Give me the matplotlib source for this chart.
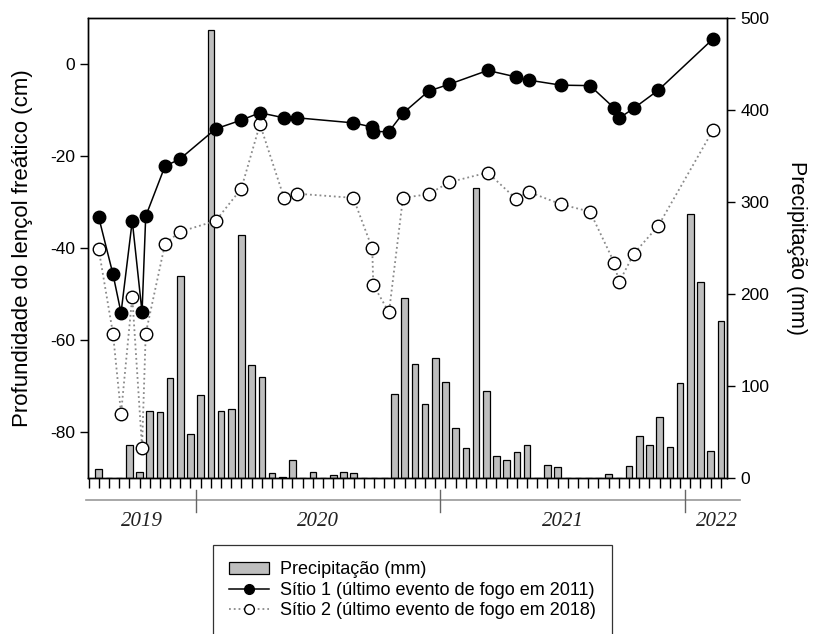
import numpy as np
import matplotlib
matplotlib.use('Agg')
import matplotlib.pyplot as plt
from matplotlib.patches import Patch
from matplotlib.lines import Line2D

plt.rcParams['font.family'] = ['Liberation Sans', 'DejaVu Sans']
plt.rcParams['axes.unicode_minus'] = False

# precipitation per half-month, Aug 2019 (1st half) .. Feb 2022 (2nd half), mm
precip = [10, 0, 0, 36, 6, 73, 72, 109, 220, 48, 90, 487, 73, 75, 264, 123,
          110, 5, 1, 20, 0, 7, 0, 3, 7, 5, 0, 0, 0, 91, 196, 124, 80, 130,
          104, 54, 33, 315, 95, 24, 19, 28, 36, 0, 14, 12, 0, 0, 0, 0, 4, 0,
          13, 46, 36, 66, 34, 103, 287, 213, 29, 171]

# sampling dates expressed in half-month units (0 = first half of Aug 2019)
sample_pos = [0.0, 1.40, 2.19, 3.29, 4.25, 4.61, 6.50, 7.94, 11.47, 13.98,
              15.81, 18.17, 19.47, 24.96, 26.82, 26.92, 28.46, 29.83, 32.34,
              34.37, 38.14, 40.91, 42.16, 45.32, 48.17, 50.55, 51.01, 52.48,
              54.86, 60.25]

# water table depth (cm)
site1 = [-33.3, -45.7, -54.1, -34.1, -54.0, -33.1, -22.2, -20.7, -14.1, -12.2,
         -10.6, -11.7, -11.7, -12.8, -13.7, -14.7, -14.7, -10.7, -5.9, -4.4,
         -1.4, -2.8, -3.5, -4.6, -4.7, -9.6, -11.8, -9.6, -5.7, 5.5]
site2 = [-40.3, -58.6, -76.0, -50.6, -83.4, -58.6, -39.1, -36.5, -34.1, -27.1,
         -13.1, -29.1, -28.2, -29.1, -40.1, -48.0, -54.0, -29.1, -28.3, -25.7,
         -23.6, -29.3, -27.8, -30.5, -32.1, -43.2, -47.5, -41.2, -35.2, -14.3]

years = ['2019', '2020', '2021', '2022']
year_starts = [9.5, 33.5, 57.5]   # Jan 1 of 2020, 2021, 2022

fig = plt.figure(figsize=(8.14, 6.34), dpi=100)
ax = fig.add_axes([0.1081, 0.2461, 0.785, 0.7255])
axp = ax.twinx()

# bars on the right axis, lines on top
ax.set_zorder(2)
axp.set_zorder(1)
ax.patch.set_visible(False)

x = np.arange(len(precip))
axp.bar(x, precip, width=0.65, color='#bebebe', edgecolor='black', linewidth=0.9)
axp.set_ylim(0, 500)
axp.set_yticks(np.arange(0, 501, 100))
axp.set_ylabel('Precipitação (mm)', fontsize=15.5, rotation=270, labelpad=27)

ax.plot(sample_pos, site1, '-', color='black', lw=1.1, marker='o', ms=9,
        mfc='black', mec='black', zorder=4)
ax.plot(sample_pos, site2, ':', color='#8a8a8a', lw=1.3, marker='o', ms=9,
        mfc='white', mec='black', mew=1.0, zorder=3)
ax.set_ylim(-90, 10)
ax.set_yticks([-80, -60, -40, -20, 0])
ax.set_ylabel('Profundidade do lençol freático (cm)', fontsize=16, labelpad=12)

ax.set_xlim(-1.05, 61.6)
ax.set_xticks(np.arange(-1, 62))
ax.set_xticklabels([])

for a in (ax, axp):
    a.tick_params(direction='out', length=6, width=1, labelsize=12.5)
    for s in a.spines.values():
        s.set_linewidth(1)
ax.tick_params(axis='x', length=7)

# year strip below the axis
tr = ax.get_xaxis_transform()
ax.plot([-1.2, 62.9], [-0.048, -0.048], color='#999999', lw=1.2,
        transform=tr, clip_on=False)
for xs in year_starts:
    ax.plot([xs, xs], [-0.026, -0.075], color='#666666', lw=1,
            transform=tr, clip_on=False)
label_pos = [(-1.0 + year_starts[0]) / 2,
             (year_starts[0] + year_starts[1]) / 2,
             (year_starts[1] + year_starts[2]) / 2,
             (year_starts[2] + 63.7) / 2]
for xp, yr in zip(label_pos, years):
    ax.text(xp, -0.095, yr, transform=tr, ha='center', va='center',
            fontsize=15, style='italic', family='Liberation Serif', color='#222222')

handles = [Patch(facecolor='#bebebe', edgecolor='black', linewidth=0.9),
           Line2D([], [], color='black', lw=1.1, marker='o', ms=7, mfc='black'),
           Line2D([], [], color='#8a8a8a', ls=':', lw=1.3, marker='o', ms=7,
                  mfc='white', mec='black')]
labels = ['Precipitação (mm)',
          'Sítio 1 (último evento de fogo em 2011)',
          'Sítio 2 (último evento de fogo em 2018)']
leg = fig.legend(handles, labels, loc='upper left',
                 bbox_to_anchor=(0.2617, 0.1404), fontsize=13, frameon=True,
                 fancybox=False, edgecolor='black', handlelength=2.2,
                 handletextpad=0.6, labelspacing=0.2, borderpad=0.9,
                 borderaxespad=0)
leg.get_frame().set_linewidth(0.9)

fig.savefig('out.png', dpi=100)
